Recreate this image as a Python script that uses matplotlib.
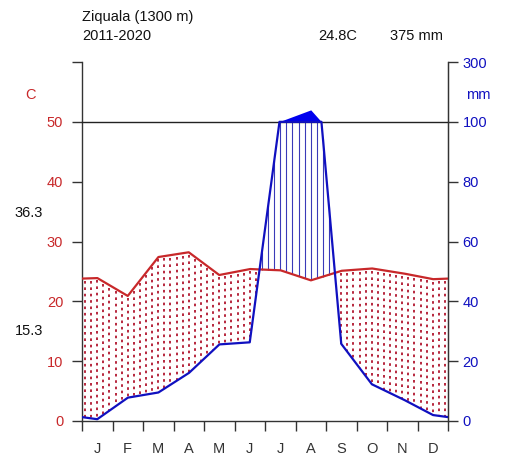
import numpy as np
import matplotlib
matplotlib.use("Agg")
import matplotlib.pyplot as plt

plt.rcParams['font.family'] = ['Liberation Sans', 'DejaVu Sans']

months = ["J", "F", "M", "A", "M", "J", "J", "A", "S", "O", "N", "D"]
temp = [23.9, 20.9, 27.4, 28.2, 24.4, 25.4, 25.2, 23.5, 25.1, 25.5, 24.7, 23.7]
prec = [0.6, 7.8, 9.5, 16.0, 25.6, 26.3, 102.0, 140.0, 25.8, 12.3, 7.4, 2.0]
left_ticks = [0, 10, 20, 30, 40, 50, 60]
left_labels = ["0", "10", "20", "30", "40", "50", ""]
right_labels = ["0", "20", "40", "60", "80", "100", "300"]
station = "Ziquala (1300 m)"
period = "2011-2020"
t_max, t_min = "36.3", "15.3"

RED = "#c8282a"
BLUE = "#1010c0"
W, H = 507, 463

fig = plt.figure(figsize=(W / 100, H / 100), dpi=100)
ax = fig.add_axes([82 / W, 42 / H, 366 / W, 359 / H])

# month centres, lines run to the edges using the Dec/Jan mean
xm = np.arange(12) + 0.5
xe = np.concatenate([[0], xm, [12]])
te = np.concatenate([[(temp[0] + temp[-1]) / 2], temp, [(temp[0] + temp[-1]) / 2]])
pe = np.concatenate([[(prec[0] + prec[-1]) / 2], prec, [(prec[0] + prec[-1]) / 2]])


def scale_p(p):
    p = np.asarray(p, dtype=float)
    return np.where(p <= 100, p / 2, 50 + (p - 100) / 20)


xf = np.linspace(0, 12, 2401)
tf = np.interp(xf, xe, te)
pf = scale_p(np.interp(xf, xe, pe))

# hatching: dotted red lines (drawn down from the temperature) where dry,
# thin blue lines where humid
xh = np.arange(0.1, 12, 0.2)
th = np.interp(xh, xe, te)
ph = np.minimum(scale_p(np.interp(xh, xe, pe)), 50)
dry = th > ph
for x, t, p in zip(xh[dry], th[dry], ph[dry]):
    ax.plot([x, x], [t - 0.4, p], color="#b41e36", linewidth=1.35,
            linestyle=(0, (1.4, 2.0)), dash_capstyle='butt', zorder=2)
ax.vlines(xh[~dry], th[~dry], ph[~dry], colors="#3a3ab8", linewidth=0.8)

# excess above 100 mm filled solid
ax.fill_between(xf, 50, pf, where=pf > 50, color="#0000ee", linewidth=0)

ax.plot(xf, tf, color=RED, linewidth=1.6, zorder=4)
ax.plot(xf, np.minimum(pf, 50), color=BLUE, linewidth=1.6, zorder=4)
ax.axhline(50, color="#222222", linewidth=1.0, zorder=3, clip_on=False)

ax.set_xlim(0, 12)
ax.set_ylim(0, 60)
ax.spines['top'].set_visible(False)
for s in ['left', 'right', 'bottom']:
    ax.spines[s].set_color("#333333")
    ax.spines[s].set_linewidth(1.0)

ax.set_yticks(left_ticks)
ax.set_yticklabels(left_labels, color=RED, fontsize=10.5)
ax.tick_params(axis='y', direction='out', length=7.5, width=1.0,
               color="#333333", pad=6)
ax.set_xticks(np.arange(13))
ax.set_xticklabels([])
ax.set_xticks(xm, minor=True)
ax.set_xticklabels(months, minor=True, color="#333333", fontsize=10.5)
ax.tick_params(axis='x', which='major', direction='out', length=7, width=1.0,
               color="#333333")
ax.tick_params(axis='x', which='minor', length=0, pad=15)

ax2 = ax.twinx()
ax2.set_ylim(0, 60)
ax2.set_yticks(left_ticks)
ax2.set_yticklabels(right_labels, color=BLUE, fontsize=10.5)
ax2.tick_params(axis='y', direction='out', length=7.5, width=1.0,
                color="#333333", pad=3)
for s in ['top', 'left', 'bottom']:
    ax2.spines[s].set_visible(False)
ax2.spines['right'].set_color("#333333")

fig.text(82 / W, 1 - 17 / H, station, fontsize=10.5, va='center', color="#111111")
fig.text(82 / W, 1 - 36 / H, period, fontsize=10.5, va='center', color="#111111")
fig.text(318 / W, 1 - 36 / H, "%.1fC" % np.mean(temp), fontsize=10.5,
         va='center', color="#111111")
fig.text(390 / W, 1 - 36 / H, "%d mm" % round(sum(prec)), fontsize=10.5,
         va='center', color="#111111")
fig.text(31 / W, 1 - 95 / H, "C", fontsize=10.5, va='center', ha='center', color=RED)
fig.text(478 / W, 1 - 95 / H, "mm", fontsize=10.5, va='center', ha='center', color=BLUE)
fig.text(29 / W, 1 - 213 / H, t_max, fontsize=10.5, va='center', ha='center', color="#111111")
fig.text(29 / W, 1 - 331 / H, t_min, fontsize=10.5, va='center', ha='center', color="#111111")

fig.savefig("out.png", dpi=100)
